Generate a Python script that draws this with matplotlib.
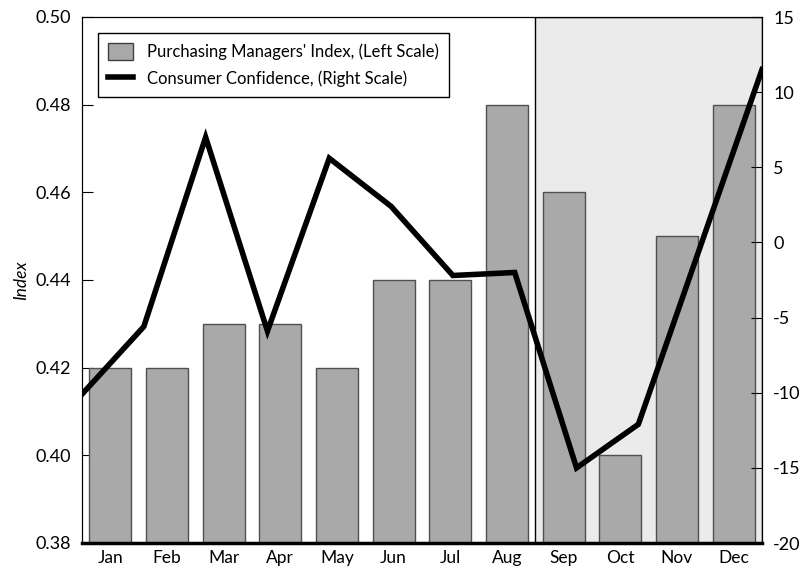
import numpy as np
import matplotlib.pyplot as plt
from matplotlib.patches import Patch
from matplotlib.lines import Line2D

months = ['Jan', 'Feb', 'Mar', 'Apr', 'May', 'Jun', 'Jul', 'Aug', 'Sep', 'Oct', 'Nov', 'Dec']
pmi = [0.42, 0.42, 0.43, 0.43, 0.42, 0.44, 0.44, 0.48, 0.46, 0.40, 0.45, 0.48]
confidence = [-10.1, -5.6, 7.0, -5.9, 5.6, 2.4, -2.2, -2.0, -15.0, -12.1, -0.3, 11.5]

plt.rcParams['font.family'] = ['Lato', 'DejaVu Sans']
plt.rcParams['font.size'] = 12
plt.rcParams['axes.unicode_minus'] = False

fig = plt.figure(figsize=(8.02, 5.71), dpi=100)
ax = fig.add_axes([82/802, 28/571, 680/802, 526/571])

x = np.arange(len(months))
ax.set_xlim(-0.5, 11.5)
ax.axvspan(7.5, 11.5, facecolor='#ebebeb', edgecolor='black', linewidth=1, zorder=0)
ax.bar(x, np.array(pmi) - 0.38, bottom=0.38, width=0.74, color='#a9a9a9',
       edgecolor='#505050', linewidth=1, zorder=2)
ax.set_ylim(0.38, 0.50)
ax.set_yticks(np.arange(0.38, 0.501, 0.02))
ax.set_yticklabels([f'{v:.2f}' for v in np.arange(0.38, 0.501, 0.02)])
ax.set_xticks(x)
ax.set_xticklabels(months)
ax.tick_params(axis='x', length=0, pad=5, labelsize=12.5)
ax.tick_params(axis='y', direction='in', length=8, pad=8, labelsize=13)
ax.set_ylabel('Index', fontstyle='italic', fontsize=12.5)
ax.yaxis.set_label_coords(-0.078, 0.5)
ax.spines['bottom'].set_linewidth(2.5)

ax2 = ax.twinx()
ax2.plot(np.linspace(-0.5, 11.5, len(confidence)), confidence, color='black',
         linewidth=4, zorder=3, solid_joinstyle='miter')
ax2.set_ylim(-20, 15)
ax2.set_yticks(np.arange(-20, 16, 5))
ax2.tick_params(axis='y', direction='in', length=8, pad=8, labelsize=13)
ax2.set_ylabel('Percent Change, Millions', rotation=90, fontsize=12, color='#555555')
ax2.yaxis.set_label_coords(1.062, 0.5)

handles = [Patch(facecolor='#a9a9a9', edgecolor='#404040'),
           Line2D([0], [0], color='black', linewidth=4)]
leg = ax2.legend(handles, ["Purchasing Managers' Index, (Left Scale)",
                           'Consumer Confidence, (Right Scale)'],
                 loc='upper left', bbox_to_anchor=(0.012, 0.985), fancybox=False,
                 framealpha=1, edgecolor='black', fontsize=12, handlelength=1.5,
                 handleheight=1.2, borderpad=0.6, labelspacing=0.55, handletextpad=0.8)
leg.get_frame().set_linewidth(1)

fig.savefig('out.png', dpi=100)
